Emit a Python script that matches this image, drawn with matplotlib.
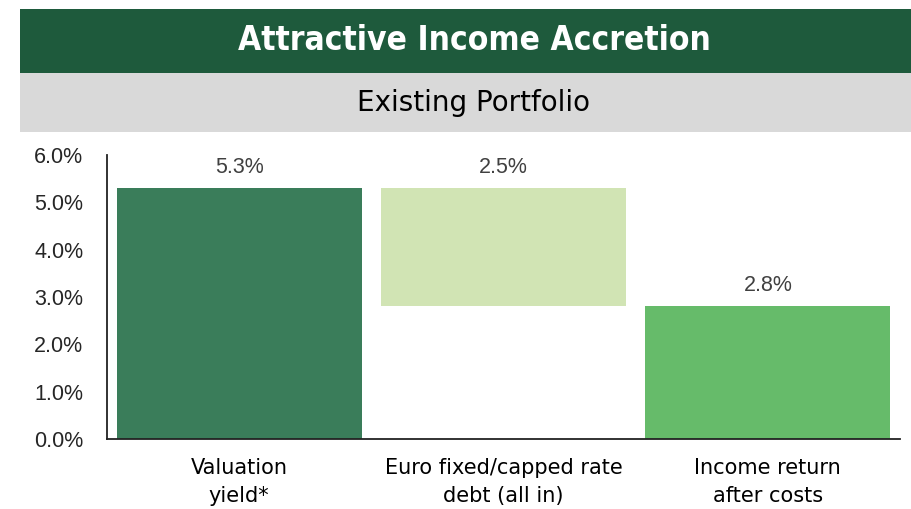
import matplotlib
matplotlib.use("Agg")
import matplotlib.pyplot as plt
from matplotlib.patches import Rectangle

categories = ["Valuation\nyield*", "Euro fixed/capped rate\ndebt (all in)", "Income return\nafter costs"]
values = [5.3, 2.5, 2.8]
bases = [0.0, 2.8, 0.0]
value_labels = ["5.3%", "2.5%", "2.8%"]
yticks = [0, 1, 2, 3, 4, 5, 6]
ytick_labels = ["0.0%", "1.0%", "2.0%", "3.0%", "4.0%", "5.0%", "6.0%"]
title = "Attractive Income Accretion"
subtitle = "Existing Portfolio"
colors = ["#3A7D5A", "#D1E4B4", "#66BB6A"]

regular = "Liberation Sans"
narrow = "DejaVu Sans"

fig = plt.figure(figsize=(9.12, 5.09), dpi=100)
fig.patch.set_facecolor("white")

# header bands
fig.patches.append(Rectangle((20/912, 1-73/509), 892/912, 64/509, transform=fig.transFigure,
                             facecolor="#1E5A3C", edgecolor="none", zorder=0))
fig.patches.append(Rectangle((20/912, 1-132/509), 892/912, 59/509, transform=fig.transFigure,
                             facecolor="#D9D9D9", edgecolor="none", zorder=0))
fig.text(474/912, 1-41/509, title, ha="center", va="center", color="white",
         fontsize=24, fontweight="bold", family=narrow, fontstretch="condensed")
fig.text(474/912, 1-103/509, subtitle, ha="center", va="center", color="black",
         fontsize=20, family=narrow)

ax = fig.add_axes([107/912, 1-439/509, 793/912, 284/509])
x = list(range(len(categories)))
ax.bar(x, values, bottom=bases, width=0.926, color=colors, edgecolor="none")
for xi, v, b, lab in zip(x, values, bases, value_labels):
    ax.annotate(lab, (xi, v + b), xytext=(0, 7.5), textcoords="offset points",
                ha="center", va="bottom", fontsize=15.5, color="#404040", family=regular)

ax.set_xlim(-0.5, 2.5)
ax.set_ylim(0, 6)
ax.set_yticks(yticks)
ax.set_yticklabels(ytick_labels, family=regular, fontsize=15.5, color="#262626")
ax.set_xticks(x)
ax.set_xticklabels(categories, family=narrow, fontsize=15, color="black", linespacing=1.45)
ax.tick_params(axis="y", length=0, pad=17)
ax.tick_params(axis="x", length=0, pad=14)
for s in ["top", "right"]:
    ax.spines[s].set_visible(False)
for s in ["left", "bottom"]:
    ax.spines[s].set_color("#222222")
    ax.spines[s].set_linewidth(1.3)

fig.savefig("out.png", dpi=100)
